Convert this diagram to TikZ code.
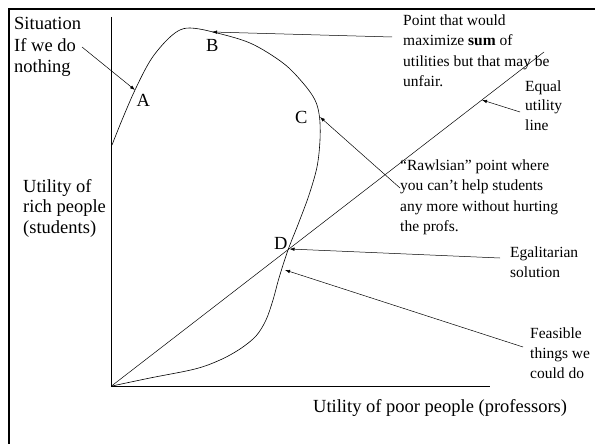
\documentclass[tikz,border=0pt]{standalone}
\usepackage{fontspec}
\setmainfont{Liberation Serif}
\usetikzlibrary{arrows.meta}
\tikzset{
  big/.style={font=\fontsize{18.5}{21.5}\selectfont, inner sep=0pt, anchor=base west, align=left},
  small/.style={font=\fontsize{15.5}{20.5}\selectfont, inner sep=0pt, anchor=base west, align=left},
  pointer/.style={line width=0.5pt, -{Latex[length=5pt,width=3.5pt]}},
  axis/.style={line width=1pt},
  curve/.style={line width=0.6pt}
}
\begin{document}
\begin{tikzpicture}[x=1pt,y=-1pt]
\useasboundingbox (0,0) rectangle (595,444);
% frame
\draw[line width=2pt] (9,444) -- (9,9.5) -- (595,9.5);
% axes
\coordinate (O) at (111.5,386);
\coordinate (ytop) at (111.5,17);
\coordinate (xend) at (490,386);
\draw[axis] (ytop) -- (O) -- (xend);
% equal utility line
\coordinate (eqend) at (544,52);
\draw[line width=0.5pt] (O) -- (eqend);
% feasible frontier
\draw[curve] plot[smooth, tension=0.55] coordinates {
  (112,145) (122,120) (135,90) (150,61) (165,42) (178,31) (190,28) (211,31.5)
  (250,43) (283,63) (303,83) (315,100) (319.5,117) (320,140) (317,167)
  (309,195) (299,222) (288,250) (279,278) (273,300) (266,320) (256,336)
  (240,349) (220,360) (195,369) (150,378) (112,386)};
% labels (anchored at the baseline of the last line)
\node[big] (sit) at (14,73) {Situation\\If we do\\nothing};
\node[big, font=\fontsize{18.5}{20.5}\selectfont] (rich) at (23,233) {Utility of\\rich people\\(students)};
\node[big] (poor) at (313,412) {Utility of poor people (professors)};
\node[big] (lA) at (136.5,106.5) {A};
\node[big] (lB) at (206,51.5) {B};
\node[big] (lC) at (295,123.5) {C};
\node[big] (lD) at (274,249) {D};
\node[small] (point) at (403,86.5) {Point that would\\maximize \textbf{sum} of\\utilities but that may be\\unfair.};
\node[small, font=\fontsize{15.5}{19.5}\selectfont] (equal) at (525,130) {Equal\\utility\\line};
\node[small] (rawls) at (400,231.5) {“Rawlsian” point where\\you can’t help students\\any more without hurting\\the profs.};
\node[small] (egal) at (510,277.5) {Egalitarian\\solution};
\node[small, font=\fontsize{15.5}{20}\selectfont] (feas) at (530,378) {Feasible\\things we\\could do};
% target points
\coordinate (pA) at (135,90);
\coordinate (pB) at (212,32);
\coordinate (pC) at (320,117);
\coordinate (pEq) at (482,100);
\coordinate (pD) at (289.5,249);
\coordinate (pF) at (285,270);
% start points
\coordinate (sSit) at (82,47);
\coordinate (sPoint) at (392,37);
\coordinate (sRawls) at (400,188);
\coordinate (sEq) at (520,112);
\coordinate (sEgal) at (500,258);
\coordinate (sFeas) at (523,347);
% pointers
\draw[pointer] (sSit) -- (pA);
\draw[pointer] (sPoint) -- (pB);
\draw[pointer] (sRawls) -- (pC);
\draw[pointer] (sEq) -- (pEq);
\draw[pointer] (sEgal) -- (pD);
\draw[pointer] (sFeas) -- (pF);
\end{tikzpicture}
\end{document}
